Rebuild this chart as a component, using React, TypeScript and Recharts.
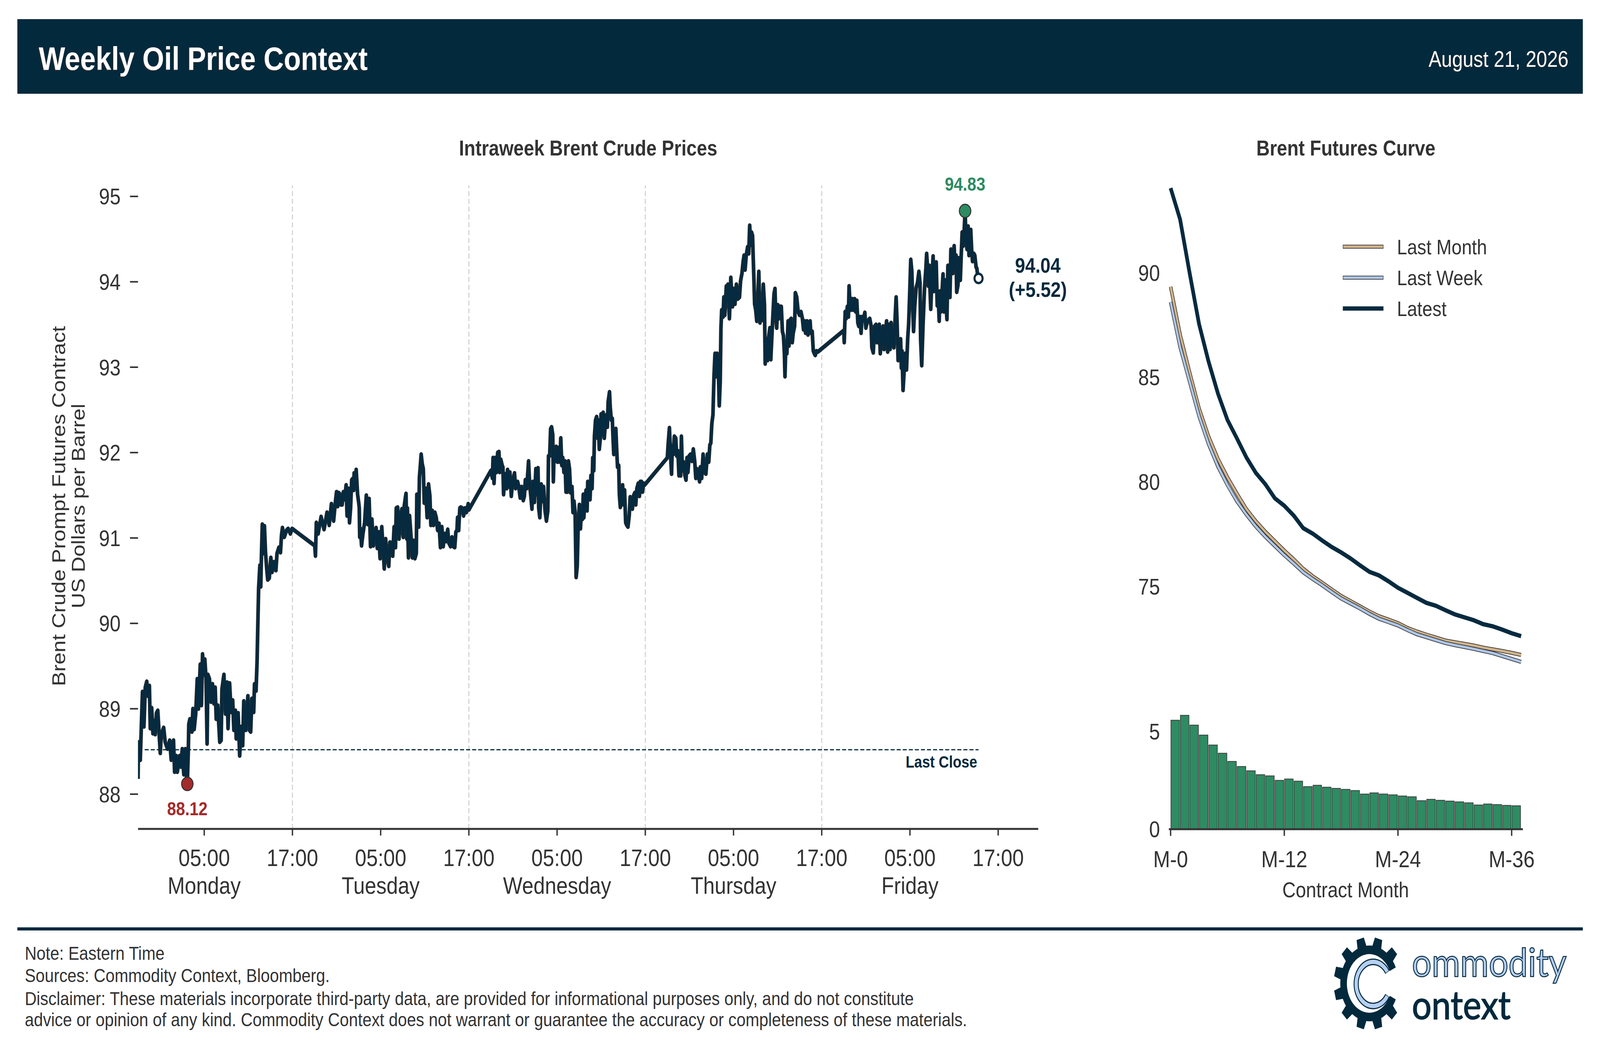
import React from 'react';
import { LineChart, Line, XAxis, YAxis, ReferenceLine, ReferenceDot, BarChart, Bar } from 'recharts';

const F = '"Liberation Sans", Arial, Helvetica, sans-serif';
const NAVY = '#03293d';
const LINE_NAVY = '#062a3f';
const TEXT = '#333333';
const GREEN = '#2e8b62';
const RED = '#a52a2a';
const TAN = '#d2b48c';
const LIGHT_BLUE = '#aec7e8';
const PAGE_W = 4749;
const PAGE_H = 2711;

// ---- Intraweek Brent prices: [hours since Monday 00:00 ET, price] ----
const sundayMondaySession: number[][] = [
  [-4.0, 88.18], [-3.95, 88.61], [-3.7, 88.4], [-3.55, 88.81], [-3.4, 89.2], [-3.2, 88.79], [-3.02, 89.25], [-2.82, 89.32],
  [-2.65, 89.15], [-2.46, 89.27], [-2.34, 88.77], [-2.15, 89.01], [-1.98, 88.71], [-1.84, 88.86], [-1.67, 88.7], [-1.5, 88.95],
  [-1.32, 88.98], [-1.15, 88.73], [-0.98, 88.48], [-0.84, 88.7], [-0.52, 88.78], [-0.31, 88.61], [0.0, 88.53], [0.3, 88.63],
  [0.51, 88.4], [0.82, 88.63], [0.97, 88.26], [1.18, 88.45], [1.34, 88.26], [1.66, 88.45], [1.82, 88.32], [2.01, 88.53],
  [2.22, 88.23], [2.43, 88.53], [2.6, 88.19], [2.7, 88.12], [2.84, 88.53], [2.9, 88.82], [3.05, 88.88], [3.32, 88.73],
  [3.46, 89.0], [3.63, 88.76], [3.84, 88.94], [4.05, 89.35], [4.21, 89.0], [4.46, 89.52], [4.62, 89.04], [4.77, 89.64],
  [4.91, 89.4], [5.08, 89.58], [5.25, 89.35], [5.39, 88.59], [5.5, 89.4], [5.71, 89.35], [5.91, 89.08], [6.12, 89.29],
  [6.32, 89.06], [6.49, 89.25], [6.63, 88.88], [6.84, 89.04], [7.11, 88.61], [7.3, 88.63], [7.41, 89.23], [7.68, 89.4],
  [7.89, 88.94], [8.1, 89.31], [8.24, 88.77], [8.45, 89.3], [8.66, 88.96], [8.87, 89.1], [9.03, 88.75], [9.24, 88.98],
  [9.35, 88.65], [9.61, 88.95], [9.82, 88.45], [10.02, 88.79], [10.23, 88.57], [10.38, 89.09], [10.65, 88.75], [10.94, 89.15],
  [11.15, 88.75], [11.32, 88.73], [11.48, 89.12], [11.73, 88.96], [11.84, 89.29], [12.05, 89.21], [12.19, 89.56], [12.32, 90.1],
  [12.4, 90.41], [12.57, 90.68], [12.69, 90.43], [12.78, 90.78], [12.9, 91.16], [13.04, 90.82], [13.19, 91.14], [13.33, 90.84],
  [13.5, 90.64], [13.64, 90.51], [13.85, 90.53], [14.06, 90.77], [14.23, 90.6], [14.48, 90.72], [14.75, 90.62], [14.9, 90.82],
  [15.16, 90.89], [15.37, 90.83], [15.51, 91.03], [15.64, 91.12], [15.89, 91.01], [16.2, 91.09], [16.41, 91.11], [16.72, 91.05],
  [16.95, 91.11],
];

const mondayTuesdaySession: number[][] = [
  [20.03, 90.91], [20.13, 90.79], [20.25, 91.18], [20.5, 91.05], [20.9, 91.25], [21.3, 91.1], [21.7, 91.3], [22.0, 91.15],
  [22.3, 91.4], [22.6, 91.2], [22.85, 91.43], [23.0, 91.54], [23.15, 91.37], [23.29, 91.53], [23.48, 91.51], [23.57, 91.39],
  [23.76, 91.39], [23.92, 91.54], [24.11, 91.45], [24.3, 91.62], [24.43, 91.26], [24.62, 91.58], [24.76, 91.18], [24.91, 91.35],
  [25.06, 91.68], [25.25, 91.7], [25.33, 91.56], [25.39, 91.76], [25.58, 91.6], [25.67, 91.8], [25.86, 91.51], [26.02, 91.41],
  [26.09, 91.35], [26.15, 91.01], [26.25, 91.11], [26.4, 90.91], [26.59, 91.05], [26.82, 91.18], [27.05, 91.5], [27.24, 91.16],
  [27.43, 91.46], [27.62, 90.9], [27.81, 91.22], [28.0, 90.91], [28.16, 91.05], [28.38, 91.12], [28.54, 90.88], [28.73, 91.07],
  [28.92, 90.76], [29.15, 91.13], [29.49, 90.64], [29.68, 90.99], [29.87, 90.78], [30.1, 90.67], [30.26, 90.95], [30.49, 90.94],
  [30.64, 90.79], [30.83, 91.13], [31.02, 90.89], [31.12, 91.35], [31.31, 91.36], [31.5, 90.99], [31.69, 91.22], [31.88, 91.34],
  [32.07, 91.01], [32.17, 91.35], [32.36, 91.47], [32.45, 91.52], [32.55, 90.99], [32.64, 91.35], [32.78, 90.77], [32.93, 91.26],
  [33.12, 91.03], [33.31, 90.77], [33.46, 90.97], [33.66, 90.76], [33.85, 90.82], [33.92, 91.51], [34.17, 91.13], [34.27, 91.71],
  [34.42, 91.87], [34.51, 91.98], [34.65, 91.87], [34.8, 91.81], [34.93, 91.41], [35.13, 91.58], [35.32, 91.24], [35.51, 91.63],
  [35.7, 91.49], [35.83, 91.15], [36.02, 91.32], [36.18, 91.15], [36.37, 91.3], [36.56, 91.24], [36.75, 91.09], [36.94, 91.17],
  [37.13, 90.89], [37.32, 91.13], [37.51, 90.9], [37.7, 91.05], [37.89, 90.96], [38.12, 91.1], [38.28, 90.94], [38.51, 90.9],
  [38.7, 91.01], [38.89, 90.9], [39.08, 90.89], [39.23, 91.07], [39.38, 91.09], [39.46, 91.24], [39.61, 91.09], [39.77, 91.35],
  [39.9, 91.36], [40.09, 91.35], [40.28, 91.26], [40.47, 91.35], [40.66, 91.3], [40.91, 91.4], [41.0, 91.33],
];

const tuesdayWednesdaySession: number[][] = [
  [44.0, 91.79], [44.2, 91.7], [44.29, 91.94], [44.42, 91.64], [44.58, 91.94], [44.77, 91.77], [44.92, 92.0], [45.09, 92.01],
  [45.19, 91.77], [45.34, 91.92], [45.53, 91.85], [45.63, 91.83], [45.72, 91.51], [45.91, 91.75], [46.14, 91.58], [46.26, 91.8],
  [46.45, 91.6], [46.58, 91.77], [46.77, 91.49], [46.97, 91.68], [47.21, 91.76], [47.35, 91.58], [47.63, 91.66], [47.79, 91.6],
  [47.98, 91.47], [48.17, 91.6], [48.4, 91.44], [48.55, 91.49], [48.68, 91.68], [48.87, 91.58], [49.12, 91.9], [49.26, 91.64],
  [49.45, 91.47], [49.58, 91.34], [49.7, 91.66], [49.92, 91.42], [50.11, 91.81], [50.21, 91.51], [50.4, 91.82], [50.5, 91.35],
  [50.65, 91.24], [50.84, 91.63], [50.97, 91.43], [51.16, 91.6], [51.36, 91.32], [51.55, 91.2], [51.74, 91.32], [51.83, 91.96],
  [51.99, 91.96], [52.12, 92.28], [52.25, 92.3], [52.41, 92.21], [52.49, 91.66], [52.59, 92.0], [52.78, 91.9], [52.87, 92.07],
  [53.07, 91.89], [53.26, 92.06], [53.39, 91.89], [53.5, 92.17], [53.64, 91.85], [53.77, 91.94], [53.93, 91.77], [54.08, 91.9],
  [54.21, 91.54], [54.4, 91.54], [54.54, 91.9], [54.69, 91.81], [54.84, 91.53], [55.03, 91.6], [55.16, 91.3], [55.3, 91.43],
  [55.45, 91.3], [55.59, 90.54], [55.74, 90.67], [55.87, 91.15], [56.03, 91.39], [56.18, 91.11], [56.31, 91.32], [56.45, 91.22],
  [56.56, 91.51], [56.64, 91.24], [56.79, 91.45], [56.94, 91.56], [57.08, 91.32], [57.17, 91.66], [57.32, 91.51], [57.48, 91.45],
  [57.6, 91.73], [57.76, 91.58], [57.85, 91.94], [57.99, 91.79], [58.08, 92.19], [58.23, 92.38], [58.38, 92.42], [58.51, 92.17],
  [58.61, 92.38], [58.74, 92.04], [58.89, 92.17], [58.98, 92.45], [59.12, 92.21], [59.27, 92.47], [59.42, 92.17], [59.56, 92.34],
  [59.69, 92.44], [59.84, 92.3], [59.94, 92.59], [60.13, 92.71], [60.23, 92.53], [60.38, 92.38], [60.51, 92.4], [60.61, 92.17],
  [60.71, 91.98], [60.84, 92.26], [60.99, 92.28], [61.09, 92.07], [61.22, 91.83], [61.38, 91.85], [61.47, 91.51], [61.6, 91.36],
  [61.76, 91.43], [61.91, 91.62], [62.04, 91.39], [62.18, 91.56], [62.33, 91.18], [62.48, 91.15], [62.64, 91.13], [62.81, 91.26],
  [62.94, 91.48], [63.09, 91.36], [63.24, 91.34], [63.38, 91.49], [63.57, 91.53], [63.7, 91.39], [63.85, 91.58], [64.04, 91.64],
  [64.2, 91.49], [64.33, 91.66], [64.48, 91.66], [64.62, 91.54], [64.77, 91.64], [64.9, 91.62],
];

const wednesdayThursdaySession: number[][] = [
  [68.0, 91.94], [68.1, 92.09], [68.28, 92.29], [68.44, 91.96], [68.57, 91.75], [68.67, 92.08], [68.82, 91.98], [68.95, 92.19],
  [69.14, 92.17], [69.28, 91.96], [69.43, 92.02], [69.58, 91.73], [69.72, 91.89], [69.81, 91.73], [69.91, 92.19], [70.04, 91.79],
  [70.19, 91.89], [70.39, 91.73], [70.54, 91.68], [70.67, 91.94], [70.8, 91.77], [70.96, 91.96], [71.15, 91.98], [71.34, 91.9],
  [71.53, 92.04], [71.72, 91.9], [71.87, 91.7], [72.0, 91.81], [72.19, 91.75], [72.38, 91.66], [72.48, 91.83], [72.67, 91.7],
  [72.86, 91.98], [73.05, 91.77], [73.24, 91.75], [73.44, 91.98], [73.63, 91.89], [73.78, 92.09], [73.91, 92.11], [74.05, 92.34],
  [74.2, 92.44], [74.35, 92.91], [74.48, 93.16], [74.62, 92.89], [74.77, 93.16], [74.92, 93.02], [75.06, 92.55], [75.19, 92.83],
  [75.29, 93.46], [75.39, 93.67], [75.58, 93.59], [75.68, 93.82], [75.82, 93.61], [76.02, 93.95], [76.15, 93.78], [76.24, 93.97],
  [76.44, 93.57], [76.63, 94.05], [76.86, 93.71], [77.01, 93.92], [77.2, 93.74], [77.39, 93.97], [77.58, 93.8], [77.81, 93.82],
  [77.96, 94.01], [78.15, 94.1], [78.31, 94.24], [78.44, 94.31], [78.57, 94.14], [78.73, 94.31], [78.92, 94.41], [79.07, 94.33],
  [79.2, 94.66], [79.34, 94.43], [79.45, 94.58], [79.59, 94.54], [79.68, 94.28], [79.78, 94.01], [79.87, 93.74], [80.02, 93.67],
  [80.16, 93.54], [80.29, 93.78], [80.44, 94.12], [80.6, 93.52], [80.73, 93.76], [80.88, 93.55], [81.05, 93.97], [81.21, 93.73],
  [81.31, 93.04], [81.5, 93.33], [81.63, 93.08], [81.78, 93.35], [81.94, 93.46], [82.07, 93.09], [82.2, 93.33], [82.36, 93.61],
  [82.51, 93.86], [82.64, 93.92], [82.74, 93.61], [82.87, 93.46], [83.02, 93.73], [83.16, 93.57], [83.31, 93.71], [83.5, 93.71],
  [83.65, 93.42], [83.79, 93.37], [83.92, 93.16], [84.0, 92.89], [84.11, 93.25], [84.26, 93.16], [84.42, 93.54], [84.55, 93.25],
  [84.68, 93.55], [84.84, 93.57], [84.99, 93.29], [85.12, 93.4], [85.31, 93.48], [85.41, 93.87], [85.6, 93.82], [85.79, 93.65],
  [85.98, 93.61], [86.17, 93.65], [86.37, 93.57], [86.52, 93.44], [86.65, 93.54], [86.8, 93.4], [86.98, 93.54], [87.13, 93.38],
  [87.26, 93.52], [87.42, 93.54], [87.51, 93.4], [87.7, 93.42], [87.85, 93.19], [87.99, 93.16], [88.12, 93.14], [88.27, 93.19],
  [88.47, 93.18],
];

const thursdayFridaySession: number[][] = [
  [92.0, 93.43], [92.06, 93.29], [92.19, 93.65], [92.32, 93.57], [92.48, 93.71], [92.63, 93.59], [92.72, 93.95], [92.86, 93.71],
  [93.01, 93.67], [93.14, 93.8], [93.33, 93.67], [93.47, 93.8], [93.62, 93.65], [93.77, 93.78], [93.91, 93.52], [94.04, 93.48],
  [94.19, 93.59], [94.35, 93.4], [94.48, 93.59], [94.67, 93.55], [94.86, 93.64], [95.0, 93.46], [95.15, 93.52], [95.34, 93.55],
  [95.53, 93.57], [95.72, 93.48], [95.82, 93.23], [96.01, 93.17], [96.2, 93.48], [96.39, 93.5], [96.52, 93.29], [96.68, 93.33],
  [96.83, 93.5], [96.96, 93.16], [97.15, 93.35], [97.34, 93.48], [97.48, 93.21], [97.63, 93.38], [97.82, 93.54], [97.97, 93.18],
  [98.11, 93.5], [98.3, 93.21], [98.43, 93.52], [98.62, 93.33], [98.81, 93.23], [98.97, 93.55], [99.12, 93.82], [99.25, 93.52],
  [99.39, 93.08], [99.58, 93.14], [99.73, 93.33], [99.83, 92.99], [99.92, 93.19], [100.06, 92.73], [100.21, 92.95], [100.34, 93.16],
  [100.53, 92.97], [100.69, 93.33], [100.82, 93.5], [100.98, 93.9], [101.11, 94.26], [101.26, 94.12], [101.4, 93.65], [101.49, 93.42],
  [101.65, 93.71], [101.84, 93.93], [102.03, 93.99], [102.22, 94.12], [102.37, 93.99], [102.45, 93.33], [102.6, 93.02], [102.79, 93.52],
  [102.98, 93.92], [103.17, 94.16], [103.27, 94.33], [103.39, 94.17], [103.51, 93.95], [103.62, 94.19], [103.74, 93.89], [103.83, 93.68],
  [103.97, 94.0], [104.15, 94.3], [104.27, 93.89], [104.39, 94.14], [104.57, 94.23], [104.71, 93.72], [104.85, 93.82], [104.98, 93.54],
  [105.06, 93.89], [105.2, 93.65], [105.33, 93.82], [105.5, 94.09], [105.63, 93.65], [105.77, 94.02], [105.91, 93.74], [106.03, 93.56],
  [106.16, 94.19], [106.3, 94.02], [106.44, 93.82], [106.57, 94.38], [106.69, 94.17], [106.83, 94.1], [107.01, 94.42], [107.14, 94.16],
  [107.27, 94.31], [107.36, 93.88], [107.53, 93.96], [107.67, 94.28], [107.85, 94.02], [107.97, 94.3], [108.1, 94.58], [108.24, 94.42],
  [108.38, 94.61], [108.5, 94.83], [108.63, 94.49], [108.77, 94.38], [108.91, 94.65], [109.03, 94.31], [109.16, 94.52], [109.27, 94.61],
  [109.39, 94.38], [109.51, 94.24], [109.69, 94.33], [109.82, 94.31], [110.0, 94.17], [110.09, 94.16], [110.18, 94.1], [110.33, 94.04],
];

const lastCloseValue = 88.52;

const xTickValues = [5, 17, 29, 41, 53, 65, 77, 89, 101, 113];
const xTickTimes = ['05:00', '17:00', '05:00', '17:00', '05:00', '17:00', '05:00', '17:00', '05:00', '17:00'];
const xTickDays = ['Monday', '', 'Tuesday', '', 'Wednesday', '', 'Thursday', '', 'Friday', ''];
const priceTicks = [88, 89, 90, 91, 92, 93, 94, 95];
const sessionCloseHours = [17, 41, 65, 89];

// ---- Brent futures curve ----
const contractMonths = [0, 1, 2, 3, 4, 5, 6, 7, 8, 9, 10, 11, 12, 13, 14, 15, 16, 17, 18, 19, 20, 21, 22, 23, 24, 25, 26, 27, 28, 29, 30, 31, 32, 33, 34, 35, 36, 37];
const latestCurve = [94.04, 92.55, 90.0, 87.55, 85.76, 84.22, 82.96, 82.08, 81.17, 80.43, 79.89, 79.22, 78.86, 78.39, 77.79, 77.53, 77.2, 76.89, 76.63, 76.34, 76.01, 75.7, 75.53, 75.25, 74.94, 74.7, 74.46, 74.22, 74.08, 73.87, 73.67, 73.53, 73.39, 73.2, 73.1, 72.94, 72.77, 72.63];
const lastWeekCurve = [88.6, 86.45, 84.8, 83.15, 81.82, 80.73, 79.85, 79.08, 78.44, 77.87, 77.38, 76.94, 76.5, 76.1, 75.68, 75.36, 75.06, 74.74, 74.43, 74.19, 73.95, 73.69, 73.46, 73.3, 73.14, 72.92, 72.72, 72.58, 72.44, 72.3, 72.2, 72.11, 72.02, 71.92, 71.82, 71.68, 71.54, 71.4];
const lastMonthCurve = [89.33, 87.05, 85.25, 83.52, 82.18, 81.1, 80.22, 79.44, 78.7, 78.12, 77.62, 77.17, 76.72, 76.3, 75.85, 75.49, 75.18, 74.86, 74.55, 74.3, 74.05, 73.8, 73.58, 73.42, 73.25, 73.02, 72.85, 72.7, 72.56, 72.42, 72.34, 72.26, 72.18, 72.08, 72.0, 71.92, 71.83, 71.73];
const weeklyChangeBars = [5.58, 5.83, 5.33, 4.82, 4.31, 3.89, 3.47, 3.21, 2.99, 2.79, 2.73, 2.5, 2.57, 2.46, 2.18, 2.25, 2.15, 2.09, 2.04, 1.98, 1.8, 1.86, 1.8, 1.76, 1.7, 1.66, 1.46, 1.53, 1.48, 1.44, 1.4, 1.35, 1.24, 1.29, 1.26, 1.22, 1.2];
const curveTicks = [75, 80, 85, 90];
const barTicks = [0, 5];
const monthTickValues = [0, 12, 24, 36];
const monthTickLabels = ['M-0', 'M-12', 'M-24', 'M-36'];

const legendItems = [
  { label: 'Last Month', color: TAN, outline: true },
  { label: 'Last Week', color: LIGHT_BLUE, outline: true },
  { label: 'Latest', color: LINE_NAVY, outline: false },
];

const footerLines = [
  'Note: Eastern Time',
  'Sources: Commodity Context, Bloomberg.',
  'Disclaimer: These materials incorporate third-party data, are provided for informational purposes only, and do not constitute',
  'advice or opinion of any kind. Commodity Context does not warrant or guarantee the accuracy or completeness of these materials.',
];
const footerBaselines = [2456.7, 2514.3, 2573.3, 2626.7];

// ---- derived tables ----
const priceData = [
  ...sundayMondaySession,
  ...mondayTuesdaySession,
  ...tuesdayWednesdaySession,
  ...wednesdayThursdaySession,
  ...thursdayFridaySession,
].map(([h, p]) => ({ h, p }));

const lowPoint = priceData.reduce((a, b) => (b.p < a.p ? b : a));
const highPoint = priceData.reduce((a, b) => (b.p > a.p ? b : a));
const lastPoint = priceData[priceData.length - 1];
const weekChange = lastPoint.p - lastCloseValue;

const curveData = contractMonths.map((m, i) => ({
  m,
  lm: lastMonthCurve[i],
  lw: lastWeekCurve[i],
  lt: latestCurve[i],
}));
const barData = weeklyChangeBars.map((s, i) => ({ c: contractMonths[i] + 0.5, s }));

const TimeTick = (props: any) => {
  const { x, y, payload } = props;
  const i = xTickValues.indexOf(payload.value);
  return (
    <g>
      <text x={x} y={y + 78} textAnchor="middle" fontSize={61} fill={TEXT} fontFamily={F}>
        {xTickTimes[i]}
      </text>
      {xTickDays[i] ? (
        <text x={x} y={y + 149} textAnchor="middle" fontSize={61} fill={TEXT} fontFamily={F}>
          {xTickDays[i]}
        </text>
      ) : null}
    </g>
  );
};

const MonthTick = (props: any) => {
  const { x, y, payload } = props;
  const i = monthTickValues.indexOf(payload.value);
  return (
    <text x={x} y={y + 80} textAnchor="middle" fontSize={60} fill={TEXT} fontFamily={F}>
      {monthTickLabels[i]}
    </text>
  );
};

function gearPath(): string {
  const rb = 97;
  const rt = 119;
  const ri = 75;
  const gapDeg = 25;
  const teeth = [45, 75, 105, 135, 165, 195, 225, 255, 285, 315];
  const pt = (r: number, deg: number) => {
    const a = (deg * Math.PI) / 180;
    return `${(r * Math.cos(a)).toFixed(2)},${(-r * Math.sin(a)).toFixed(2)}`;
  };
  const pts: string[] = [];
  let a = gapDeg;
  pts.push(pt(rb, a));
  for (const c of teeth) {
    while (a < c - 9) {
      a += 2;
      if (a > c - 9) a = c - 9;
      pts.push(pt(rb, a));
    }
    pts.push(pt(rt, c - 6));
    pts.push(pt(rt, c + 6));
    pts.push(pt(rb, c + 9));
    a = c + 9;
  }
  while (a < 360 - gapDeg) {
    a += 2;
    if (a > 360 - gapDeg) a = 360 - gapDeg;
    pts.push(pt(rb, a));
  }
  let b = 360 - gapDeg;
  pts.push(pt(ri, b));
  while (b > gapDeg) {
    b -= 2;
    if (b < gapDeg) b = gapDeg;
    pts.push(pt(ri, b));
  }
  return 'M' + pts.join(' L') + ' Z';
}

function cArc(r: number, gap: number): string {
  const a1 = (gap * Math.PI) / 180;
  const x1 = r * Math.cos(a1);
  const y1 = -r * Math.sin(a1);
  const y2 = r * Math.sin(a1);
  return `M${x1.toFixed(2)},${y1.toFixed(2)} A${r},${r} 0 1 0 ${x1.toFixed(2)},${y2.toFixed(2)}`;
}

const Overlay = () => (
  <svg width={PAGE_W} height={PAGE_H} style={{ position: 'absolute', left: 0, top: 0 }}>
    <rect x={51.5} y={49} width={4646.5} height={191} fill={NAVY} />
    <text x={112} y={182} fontSize={83} fontWeight="bold" fill="#2a2a2a" fontFamily={F} opacity={0.8}>
      Weekly Oil Price Context
    </text>
    <text x={115} y={179} fontSize={83} fontWeight="bold" fill="#ffffff" fontFamily={F}>
      Weekly Oil Price Context
    </text>
    <text x={4653} y={173} fontSize={57} fill="#2a2a2a" fontFamily={F} textAnchor="end" opacity={0.8}>
      August 21, 2026
    </text>
    <text x={4655.5} y={171} fontSize={57} fill="#ffffff" fontFamily={F} textAnchor="end">
      August 21, 2026
    </text>

    <text x={1745.7} y={398} fontSize={55} fontWeight="bold" fill={TEXT} fontFamily={F} textAnchor="middle">
      Intraweek Brent Crude Prices
    </text>
    <text x={3994.7} y={398} fontSize={55} fontWeight="bold" fill={TEXT} fontFamily={F} textAnchor="middle">
      Brent Futures Curve
    </text>

    <text x={193.3} y={1295.5} fontSize={55.5} fill={TEXT} fontFamily={F} textAnchor="middle" transform="rotate(-90 193.3 1295.5)">
      Brent Crude Prompt Futures Contract
    </text>
    <text x={251.7} y={1295.5} fontSize={55.5} fill={TEXT} fontFamily={F} textAnchor="middle" transform="rotate(-90 251.7 1295.5)">
      US Dollars per Barrel
    </text>

    <text x={3994} y={2297} fontSize={55} fill={TEXT} fontFamily={F} textAnchor="middle">
      Contract Month
    </text>

    {legendItems.map((it, i) => {
      const y = 631.6 + i * 79.1;
      return (
        <g key={it.label}>
          {it.outline ? (
            <>
              <line x1={3985.7} x2={4106.3} y1={y} y2={y} stroke="#333" strokeWidth={10} />
              <line x1={3987} x2={4105} y1={y} y2={y} stroke={it.color} strokeWidth={6.5} />
            </>
          ) : (
            <line x1={3985.7} x2={4106.3} y1={y} y2={y} stroke={it.color} strokeWidth={11} />
          )}
          <text x={4146.5} y={y + 19.5} fontSize={54} fill={TEXT} fontFamily={F}>
            {it.label}
          </text>
        </g>
      );
    })}

    <rect x={51.5} y={2374} width={4646.5} height={8} fill={NAVY} />
    {footerLines.map((t, i) => (
      <text key={i} x={73.5} y={footerBaselines[i]} fontSize={48.5} fill={TEXT} fontFamily={F}>
        {t}
      </text>
    ))}

    <g transform="translate(4064.5 2517.5) scale(0.89 1)">
      <path d={gearPath()} fill={NAVY} />
      <g transform="translate(12.4 1.3)">
        <path d={cArc(56.5, 32)} fill="none" stroke={NAVY} strokeWidth={17} />
        <path d={cArc(56.5, 33.5)} fill="none" stroke="#b5cff3" strokeWidth={11} />
      </g>
    </g>
    <text x={4190.8} y={2500} fontSize={100} fontFamily='Lato, "DejaVu Sans", sans-serif' fill="#b5cff3" stroke={NAVY} strokeWidth={2.5} textLength={459} lengthAdjust="spacingAndGlyphs">
      ommodity
    </text>
    <text x={4190.8} y={2609.3} fontSize={100} fontFamily='Lato, "DejaVu Sans", sans-serif' fill={NAVY} stroke={NAVY} strokeWidth={2} textLength={293} lengthAdjust="spacingAndGlyphs">
      ontext
    </text>
  </svg>
);

const MainChart = () => (
  <div style={{ position: 'absolute', left: 0, top: 0 }}>
    <LineChart width={3300} height={2400} data={priceData} margin={{ top: 474.6, right: 218.4, bottom: 78, left: 0 }}>
      <XAxis
        type="number"
        dataKey="h"
        domain={[-4, 118.45]}
        allowDataOverflow
        ticks={xTickValues}
        interval={0}
        height={200}
        tickSize={17}
        tickMargin={0}
        axisLine={{ stroke: '#333', strokeWidth: 5 }}
        tickLine={{ stroke: '#333', strokeWidth: 4 }}
        tick={<TimeTick />}
      />
      <YAxis
        type="number"
        domain={[87.593, 95.129]}
        allowDataOverflow
        ticks={priceTicks}
        interval={0}
        width={409.8}
        tickSize={24}
        tickMargin={27.7}
        axisLine={false}
        tickLine={{ stroke: '#333', strokeWidth: 4 }}
        tick={{ fontSize: 58, fill: TEXT, fontFamily: F }}
      />
      {sessionCloseHours.map((h) => (
        <ReferenceLine key={h} x={h} stroke="#d0d0d0" strokeWidth={3} strokeDasharray="13 7" />
      ))}
      <ReferenceLine
        segment={[
          { x: -3.1, y: lastCloseValue },
          { x: lastPoint.h, y: lastCloseValue },
        ]}
        stroke={NAVY}
        strokeWidth={3}
        strokeDasharray="12 6"
      />
      <Line type="linear" dataKey="p" stroke="#2c2c2c" strokeWidth={11} dot={false} isAnimationActive={false} strokeLinejoin="round" />
      <Line type="linear" dataKey="p" stroke={LINE_NAVY} strokeWidth={8} dot={false} isAnimationActive={false} strokeLinejoin="round" />
      <ReferenceDot
        x={lastPoint.h}
        y={lastCloseValue}
        r={1}
        shape={(p: any) => (
          <text x={p.cx - 4} y={p.cy + 46} textAnchor="end" fontSize={42} fontWeight="bold" fill={NAVY} fontFamily={F}>
            Last Close
          </text>
        )}
      />
      <ReferenceDot
        x={lowPoint.h}
        y={lowPoint.p}
        r={17}
        shape={(p: any) => (
          <g>
            <circle cx={p.cx} cy={p.cy} r={17} fill={RED} stroke="#333" strokeWidth={3} />
            <text x={p.cx} y={p.cy + 80} textAnchor="middle" fontSize={48} fontWeight="bold" fill={RED} fontFamily={F}>
              {lowPoint.p.toFixed(2)}
            </text>
          </g>
        )}
      />
      <ReferenceDot
        x={highPoint.h}
        y={highPoint.p}
        r={17}
        shape={(p: any) => (
          <g>
            <circle cx={p.cx} cy={p.cy} r={17} fill={GREEN} stroke="#333" strokeWidth={3} />
            <text x={p.cx} y={p.cy - 52} textAnchor="middle" fontSize={48} fontWeight="bold" fill={GREEN} fontFamily={F}>
              {highPoint.p.toFixed(2)}
            </text>
          </g>
        )}
      />
      <ReferenceDot
        x={lastPoint.h}
        y={lastPoint.p}
        r={12}
        shape={(p: any) => (
          <g>
            <circle cx={p.cx} cy={p.cy} r={12} fill="#ffffff" stroke={LINE_NAVY} strokeWidth={6} />
            <text x={p.cx + 176} y={p.cy - 15} textAnchor="middle" fontSize={54} fontWeight="bold" fill={NAVY} fontFamily={F}>
              {lastPoint.p.toFixed(2)}
            </text>
            <text x={p.cx + 176} y={p.cy + 47} textAnchor="middle" fontSize={54} fontWeight="bold" fill={NAVY} fontFamily={F}>
              {`(${weekChange >= 0 ? '+' : ''}${weekChange.toFixed(2)})`}
            </text>
          </g>
        )}
      />
    </LineChart>
  </div>
);

const CurveChart = () => (
  <div style={{ position: 'absolute', left: 3300, top: 0 }}>
    <LineChart width={1449} height={1800} data={curveData} margin={{ top: 421, right: 228.9, bottom: 44.6, left: 0 }}>
      <XAxis type="number" dataKey="m" domain={[-0.185, 37.185]} allowDataOverflow hide height={0} />
      <YAxis
        type="number"
        domain={[70.26, 95.17]}
        allowDataOverflow
        ticks={curveTicks}
        interval={0}
        width={169.3}
        tickSize={0}
        tickMargin={26.4}
        axisLine={false}
        tickLine={false}
        tick={{ fontSize: 58, fill: TEXT, fontFamily: F }}
      />
      <Line type="linear" dataKey="lm" stroke="#333" strokeWidth={10} dot={false} isAnimationActive={false} />
      <Line type="linear" dataKey="lm" stroke={TAN} strokeWidth={6.5} dot={false} isAnimationActive={false} />
      <Line type="linear" dataKey="lw" stroke="#333" strokeWidth={10} dot={false} isAnimationActive={false} />
      <Line type="linear" dataKey="lw" stroke={LIGHT_BLUE} strokeWidth={6.5} dot={false} isAnimationActive={false} />
      <Line type="linear" dataKey="lt" stroke={LINE_NAVY} strokeWidth={11} dot={false} isAnimationActive={false} />
    </LineChart>
  </div>
);

const SpreadChart = () => (
  <div style={{ position: 'absolute', left: 3300, top: 1750 }}>
    <BarChart width={1449} height={700} data={barData} margin={{ top: 66.7, right: 228.9, bottom: 127.3, left: 0 }} barCategoryGap={0} barGap={0}>
      <XAxis
        type="number"
        dataKey="c"
        domain={[-0.185, 37.185]}
        allowDataOverflow
        ticks={monthTickValues}
        interval={0}
        height={200}
        tickSize={17}
        tickMargin={0}
        axisLine={{ stroke: '#333', strokeWidth: 5 }}
        tickLine={{ stroke: '#333', strokeWidth: 4 }}
        tick={<MonthTick />}
      />
      <YAxis
        type="number"
        domain={[0, 6.12]}
        allowDataOverflow
        ticks={barTicks}
        interval={0}
        width={169.3}
        tickSize={0}
        tickMargin={26.4}
        axisLine={false}
        tickLine={false}
        tick={{ fontSize: 58, fill: TEXT, fontFamily: F }}
      />
      <Bar dataKey="s" fill={GREEN} stroke="#3d3d3d" strokeWidth={2} barSize={28.12} isAnimationActive={false} />
    </BarChart>
  </div>
);

function getViewport(): { w: number; h: number } {
  if (typeof window === 'undefined') return { w: PAGE_W, h: PAGE_H };
  const w = window.innerWidth || document.documentElement.clientWidth || PAGE_W;
  const h = window.innerHeight || document.documentElement.clientHeight || PAGE_H;
  return { w, h };
}

export default function App() {
  const vp = getViewport();
  const sx = Math.min(vp.w / PAGE_W, 1);
  const sy = Math.min(vp.h / PAGE_H, 1);
  return (
    <div
      style={{
        position: 'fixed',
        left: 0,
        top: 0,
        width: PAGE_W * sx,
        height: PAGE_H * sy,
        overflow: 'hidden',
        background: '#ffffff',
      }}
    >
      <style>{'html,body{margin:0;padding:0;overflow:hidden;background:#ffffff;}'}</style>
      <div
        style={{
          position: 'absolute',
          left: 0,
          top: 0,
          width: PAGE_W,
          height: PAGE_H,
          transform: `scale(${sx}, ${sy})`,
          transformOrigin: '0 0',
          background: '#ffffff',
          fontFamily: F,
        }}
      >
        <Overlay />
        <MainChart />
        <CurveChart />
        <SpreadChart />
      </div>
    </div>
  );
}
